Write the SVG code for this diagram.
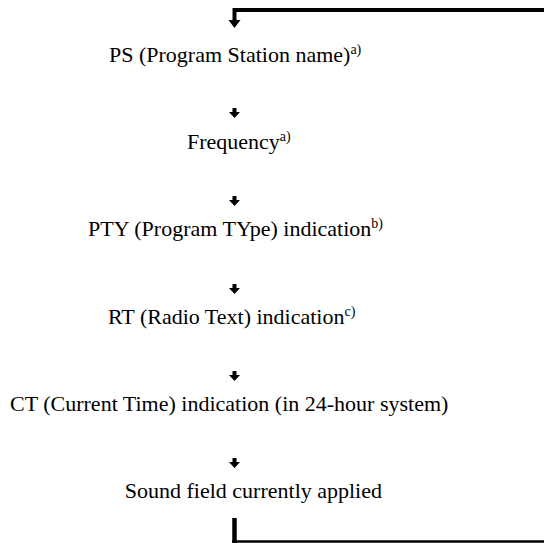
<svg xmlns="http://www.w3.org/2000/svg" width="544" height="543" viewBox="0 0 544 543">
<defs>
<style>
.t{font-family:"Liberation Serif","Times New Roman",serif;font-size:22px;fill:#000}
.s{font-size:14px}
.ar{fill:#000}
</style>
<path id="arrow" d="M-2,0 H2 V4 H5.5 L0,10 L-5.5,4 H-2 Z"/>
</defs>
<rect width="544" height="543" fill="#fff"/>
<g id="connectors">
<path d="M234.5,10 H544" stroke="#000" stroke-width="4" fill="none"/>
<path d="M234.5,8 V21" stroke="#000" stroke-width="4" fill="none"/>
<path d="M228.5,20 L240.5,20 L234.5,28 Z" class="ar"/>
<use href="#arrow" x="234.5" y="108" class="ar"/>
<use href="#arrow" x="234.5" y="196" class="ar"/>
<use href="#arrow" x="234.5" y="284" class="ar"/>
<use href="#arrow" x="234.5" y="371" class="ar"/>
<use href="#arrow" x="234.5" y="458" class="ar"/>
<path d="M234.5,518 V543" stroke="#000" stroke-width="4.5" fill="none"/>
<path d="M232,541.5 H544" stroke="#000" stroke-width="2.5" fill="none"/>
</g>
<g id="ps"><text class="t" x="109" y="62">PS (Program Station name)<tspan class="s" dy="-8">a)</tspan></text></g>
<g id="freq"><text class="t" x="187" y="149">Frequency<tspan class="s" dy="-8">a)</tspan></text></g>
<g id="pty"><text class="t" x="88" y="236">PTY (Program TYpe) indication<tspan class="s" dy="-8">b)</tspan></text></g>
<g id="rt"><text class="t" x="108" y="324">RT (Radio Text) indication<tspan class="s" dy="-8">c)</tspan></text></g>
<g id="ct"><text class="t" x="10" y="411">CT (Current Time) indication (in 24-hour system)</text></g>
<g id="sound"><text class="t" x="382" y="498" text-anchor="end">Sound field currently applied</text></g>
</svg>
